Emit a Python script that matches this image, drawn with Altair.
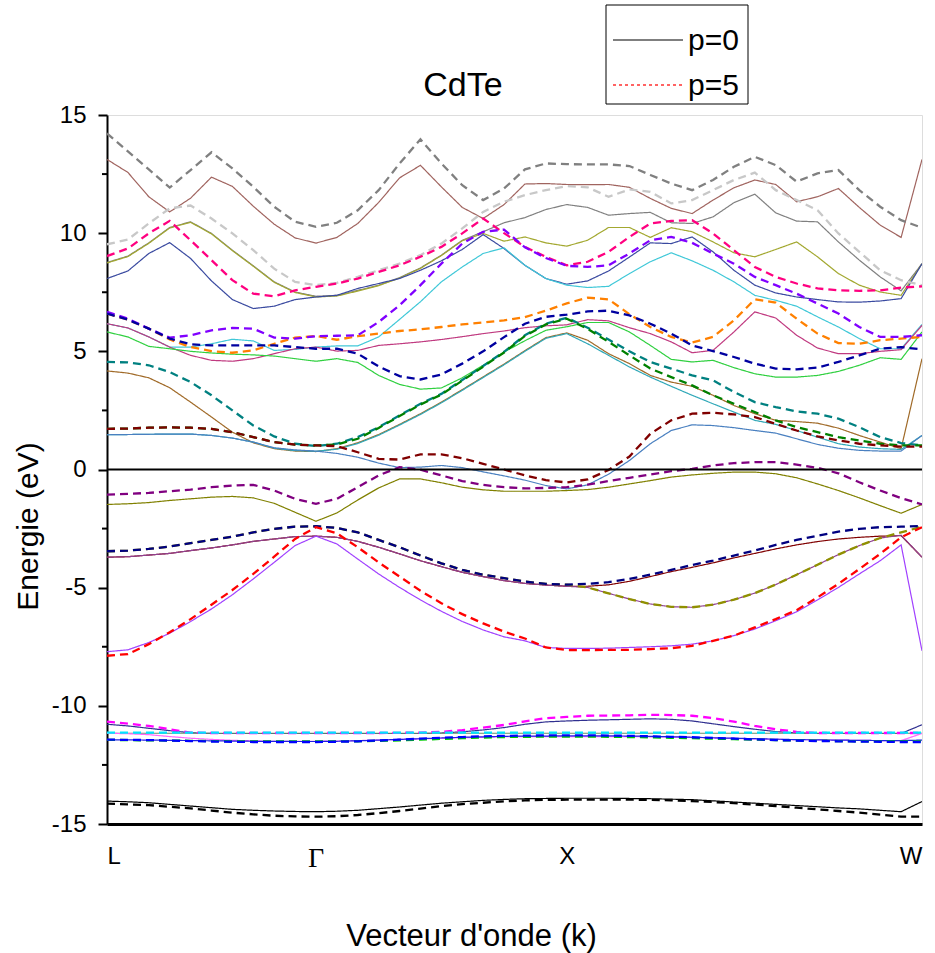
import altair as alt
import pandas as pd

# ---------------- data ----------------
K = list(range(40))  # k-point index along L - Gamma - X - W
TICK_K = [0, 10, 22, 39]
TICK_LABELS = ["L", "Γ", "X", "W"]
Y_MAJOR = [-15, -10, -5, 0, 5, 10, 15]
Y_MINOR = [-12.5, -7.5, -2.5, 2.5, 7.5, 12.5]

# p = 0 (solid)
c_top_p0 = [13.12, 12.57, 11.54, 10.90, 11.48, 12.37, 11.98, 11.14, 10.38, 9.80, 9.58, 9.82, 10.41, 11.30, 12.34, 12.87, 11.96, 11.09, 10.62, 11.21, 12.08, 12.10, 12.06, 12.05, 12.06, 11.94, 11.47, 11.05, 10.83, 11.40, 11.92, 12.25, 12.06, 11.33, 11.54, 11.89, 11.09, 10.34, 9.82, 13.12]
c_gray_p0 = [8.76, 9.03, 9.59, 10.24, 10.48, 9.99, 9.28, 8.62, 7.94, 7.51, 7.33, 7.37, 7.58, 7.80, 8.12, 8.53, 9.07, 9.70, 10.06, 10.44, 10.66, 11.00, 11.21, 11.09, 10.76, 10.83, 10.88, 10.44, 10.41, 10.69, 11.29, 11.65, 10.86, 10.51, 10.48, 9.63, 8.86, 8.15, 7.56, 8.71]
c_olive_p0 = [8.74, 9.01, 9.57, 10.22, 10.46, 9.97, 9.26, 8.60, 7.92, 7.49, 7.30, 7.34, 7.55, 7.78, 8.10, 8.51, 9.05, 9.68, 9.99, 9.66, 9.84, 9.59, 9.45, 9.70, 10.24, 10.24, 9.82, 10.23, 10.06, 9.63, 9.17, 9.00, 9.31, 9.63, 9.00, 8.29, 7.80, 7.51, 7.37, 8.71]
c_navy_p0 = [8.08, 8.40, 9.14, 9.60, 8.93, 7.98, 7.19, 6.81, 6.91, 7.19, 7.30, 7.37, 7.66, 7.87, 8.08, 8.43, 8.83, 9.31, 9.94, 9.35, 8.64, 8.08, 7.84, 7.98, 8.40, 8.99, 9.59, 9.56, 9.84, 9.21, 8.43, 7.80, 7.47, 7.30, 7.19, 7.09, 7.08, 7.13, 7.23, 8.71]
c_cyan_p0 = [6.17, 5.99, 5.61, 5.18, 5.18, 5.32, 5.51, 5.44, 5.04, 5.08, 5.18, 5.23, 5.23, 5.61, 6.35, 7.10, 7.94, 8.57, 9.14, 9.38, 8.64, 8.08, 7.80, 7.70, 7.75, 8.29, 8.79, 9.17, 8.83, 8.43, 7.94, 7.37, 7.16, 6.91, 6.46, 6.03, 5.54, 5.11, 5.11, 6.14]
c_magenta_p0 = [6.17, 5.99, 5.61, 5.18, 4.83, 4.62, 4.58, 4.69, 4.90, 5.11, 5.18, 5.01, 5.04, 5.25, 5.32, 5.40, 5.50, 5.62, 5.75, 5.86, 6.00, 6.08, 6.12, 6.34, 6.29, 6.00, 5.75, 5.40, 4.94, 5.04, 5.82, 6.67, 6.41, 5.68, 5.14, 4.90, 4.90, 5.00, 5.07, 6.10]
c_green_p0 = [5.82, 5.61, 5.21, 5.11, 5.00, 4.93, 4.88, 4.85, 4.80, 4.69, 4.58, 4.69, 4.53, 3.98, 3.60, 3.40, 3.45, 3.88, 4.41, 4.97, 5.45, 5.89, 6.04, 6.22, 6.22, 5.82, 5.25, 4.66, 4.55, 4.62, 4.31, 4.05, 3.91, 3.91, 3.98, 4.15, 4.41, 4.73, 4.66, 5.82]
c_brown_p0 = [4.17, 4.08, 3.88, 3.46, 2.85, 2.22, 1.58, 1.13, 0.88, 0.78, 0.76, 0.88, 1.13, 1.48, 1.91, 2.36, 2.85, 3.38, 3.92, 4.46, 5.03, 5.58, 5.78, 5.47, 4.90, 4.48, 3.98, 3.70, 3.52, 3.14, 2.71, 2.36, 2.08, 2.03, 1.96, 1.75, 1.44, 1.16, 0.88, 4.69]
c_teal_p0 = [1.47, 1.48, 1.49, 1.50, 1.50, 1.44, 1.33, 1.16, 0.90, 0.80, 0.77, 0.86, 1.10, 1.45, 1.88, 2.33, 2.82, 3.35, 3.89, 4.43, 5.00, 5.55, 5.75, 5.32, 4.83, 4.34, 3.91, 3.52, 3.14, 2.78, 2.43, 2.08, 1.91, 1.65, 1.37, 1.09, 0.95, 0.88, 0.85, 1.44]
c_steel_p0 = [1.47, 1.48, 1.49, 1.50, 1.50, 1.44, 1.33, 1.16, 0.92, 0.83, 0.78, 0.68, 0.52, 0.27, 0.08, 0.10, 0.17, 0.08, -0.10, -0.27, -0.45, -0.68, -0.82, -0.65, -0.20, 0.38, 1.09, 1.65, 1.89, 1.86, 1.77, 1.65, 1.54, 1.30, 1.06, 0.90, 0.81, 0.78, 0.78, 1.44]
v_olive_p0 = [-1.48, -1.45, -1.40, -1.31, -1.24, -1.17, -1.14, -1.20, -1.43, -1.81, -2.19, -1.84, -1.29, -0.78, -0.40, -0.40, -0.56, -0.75, -0.86, -0.92, -0.92, -0.92, -0.89, -0.85, -0.75, -0.61, -0.47, -0.32, -0.23, -0.16, -0.11, -0.11, -0.18, -0.35, -0.61, -0.89, -1.20, -1.53, -1.85, -1.48]
v_darkred_p0 = [-3.71, -3.69, -3.62, -3.55, -3.43, -3.32, -3.19, -3.04, -2.94, -2.84, -2.82, -2.87, -3.04, -3.29, -3.57, -3.86, -4.11, -4.35, -4.53, -4.70, -4.82, -4.89, -4.94, -4.94, -4.88, -4.73, -4.53, -4.32, -4.14, -3.95, -3.74, -3.55, -3.36, -3.19, -3.05, -2.94, -2.87, -2.82, -2.80, -3.71]
v_plum_p0 = [-3.71, -3.69, -3.62, -3.55, -3.43, -3.32, -3.19, -3.04, -2.94, -2.84, -2.82, -2.87, -3.04, -3.29, -3.57, -3.86, -4.11, -4.35, -4.53, -4.70, -4.82, -4.89, -4.94, -4.99, -5.24, -5.48, -5.69, -5.81, -5.83, -5.72, -5.51, -5.23, -4.87, -4.45, -4.03, -3.60, -3.22, -2.90, -2.78, -3.71]
v_violet_p0 = [-7.71, -7.63, -7.32, -6.93, -6.43, -5.90, -5.30, -4.63, -3.93, -3.22, -2.82, -3.15, -3.79, -4.42, -4.99, -5.52, -6.00, -6.43, -6.79, -7.08, -7.25, -7.53, -7.57, -7.57, -7.56, -7.53, -7.50, -7.46, -7.39, -7.25, -7.03, -6.75, -6.40, -6.02, -5.52, -4.99, -4.42, -3.86, -3.19, -7.67]
d_navy_p0 = [-10.78, -10.85, -10.95, -11.05, -11.14, -11.17, -11.17, -11.17, -11.17, -11.17, -11.17, -11.17, -11.17, -11.17, -11.17, -11.17, -11.15, -11.10, -11.02, -10.92, -10.78, -10.68, -10.64, -10.61, -10.59, -10.57, -10.55, -10.57, -10.64, -10.76, -10.88, -10.99, -11.09, -11.15, -11.17, -11.17, -11.17, -11.17, -11.17, -10.80]
d_sage_p0 = [-11.16, -11.16, -11.16, -11.16, -11.16, -11.16, -11.16, -11.16, -11.16, -11.16, -11.16, -11.16, -11.16, -11.16, -11.16, -11.16, -11.16, -11.16, -11.16, -11.16, -11.16, -11.16, -11.16, -11.16, -11.16, -11.16, -11.16, -11.16, -11.16, -11.16, -11.16, -11.16, -11.16, -11.16, -11.16, -11.16, -11.16, -11.16, -11.16, -11.16]
d_pink_p0 = [-11.16, -11.18, -11.22, -11.30, -11.37, -11.42, -11.46, -11.48, -11.50, -11.50, -11.50, -11.49, -11.47, -11.45, -11.42, -11.40, -11.37, -11.35, -11.33, -11.31, -11.30, -11.30, -11.30, -11.30, -11.30, -11.30, -11.31, -11.32, -11.34, -11.36, -11.38, -11.40, -11.42, -11.43, -11.44, -11.45, -11.46, -11.47, -11.47, -11.17]
d_blue_p0 = [-11.44, -11.44, -11.45, -11.46, -11.47, -11.48, -11.49, -11.50, -11.50, -11.51, -11.51, -11.50, -11.48, -11.45, -11.42, -11.39, -11.36, -11.33, -11.31, -11.29, -11.28, -11.28, -11.27, -11.27, -11.27, -11.28, -11.29, -11.31, -11.33, -11.35, -11.37, -11.39, -11.41, -11.43, -11.44, -11.45, -11.46, -11.47, -11.47, -11.45]
s_black_p0 = [-14.03, -14.06, -14.10, -14.17, -14.24, -14.31, -14.38, -14.42, -14.45, -14.47, -14.48, -14.46, -14.42, -14.35, -14.28, -14.20, -14.12, -14.06, -14.00, -13.96, -13.93, -13.92, -13.91, -13.91, -13.91, -13.92, -13.93, -13.95, -13.97, -14.02, -14.07, -14.12, -14.17, -14.22, -14.27, -14.32, -14.36, -14.42, -14.48, -14.05]

# p = 5 (dashed)
c_gray_p5 = [14.22, 13.46, 12.70, 11.93, 12.67, 13.42, 12.74, 11.96, 11.12, 10.48, 10.27, 10.44, 10.97, 11.82, 12.95, 13.97, 12.95, 12.03, 11.40, 11.89, 12.70, 12.95, 12.92, 12.91, 12.91, 12.84, 12.46, 12.10, 11.82, 12.25, 12.81, 13.23, 12.88, 12.18, 12.53, 12.67, 11.82, 11.12, 10.55, 10.23]
c_silver_p5 = [9.53, 9.73, 10.41, 11.05, 11.17, 10.62, 9.99, 9.28, 8.50, 7.94, 7.80, 7.90, 8.15, 8.43, 8.71, 9.07, 9.56, 10.20, 10.90, 11.33, 11.61, 11.82, 11.99, 11.94, 11.54, 11.85, 11.75, 11.26, 11.40, 11.82, 12.25, 12.56, 11.82, 11.40, 10.97, 9.99, 9.21, 8.43, 8.01, 7.80]
c_pink_p5 = [9.03, 9.35, 9.99, 10.52, 9.70, 8.86, 8.01, 7.44, 7.33, 7.58, 7.73, 7.87, 8.08, 8.36, 8.64, 9.00, 9.42, 9.99, 10.62, 10.00, 9.42, 9.00, 8.64, 8.79, 9.21, 9.84, 10.41, 10.52, 10.55, 9.99, 9.28, 8.57, 8.15, 7.87, 7.66, 7.58, 7.56, 7.58, 7.70, 7.75]
c_purple_p5 = [6.67, 6.38, 5.96, 5.58, 5.68, 5.89, 5.99, 5.96, 5.58, 5.54, 5.64, 5.66, 5.68, 6.24, 6.95, 7.80, 8.71, 9.56, 10.06, 10.15, 9.40, 8.95, 8.62, 8.57, 8.64, 9.14, 9.70, 9.84, 9.59, 9.14, 8.71, 8.15, 7.80, 7.44, 7.02, 6.60, 6.03, 5.61, 5.61, 5.68]
c_orange_p5 = [6.60, 6.34, 5.96, 5.50, 5.18, 5.01, 4.94, 5.04, 5.32, 5.58, 5.65, 5.49, 5.64, 5.75, 5.86, 5.93, 6.03, 6.14, 6.22, 6.31, 6.45, 6.72, 7.03, 7.27, 7.20, 6.57, 6.03, 5.61, 5.37, 5.61, 6.31, 7.20, 7.06, 6.38, 5.75, 5.35, 5.32, 5.47, 5.54, 5.61]
c_navy_p5 = [6.60, 6.34, 5.96, 5.54, 5.30, 5.25, 5.25, 5.25, 5.25, 5.18, 5.11, 5.11, 4.90, 4.36, 3.95, 3.81, 4.02, 4.48, 5.00, 5.60, 6.17, 6.46, 6.55, 6.69, 6.72, 6.52, 6.17, 5.75, 5.25, 5.01, 4.76, 4.48, 4.27, 4.24, 4.31, 4.55, 4.83, 5.11, 5.18, 5.08]
c_teal_p5 = [4.55, 4.53, 4.41, 4.12, 3.70, 3.14, 2.50, 1.86, 1.40, 1.09, 0.99, 1.09, 1.37, 1.79, 2.29, 2.78, 3.20, 3.79, 4.38, 4.98, 5.68, 6.17, 6.42, 6.00, 5.50, 5.00, 4.55, 4.27, 3.98, 3.77, 3.28, 2.85, 2.64, 2.46, 2.36, 2.15, 1.79, 1.37, 1.12, 1.02]
c_green_p5 = [1.72, 1.73, 1.77, 1.78, 1.77, 1.72, 1.58, 1.37, 1.16, 1.05, 1.02, 1.06, 1.30, 1.76, 2.26, 2.75, 3.17, 3.76, 4.35, 4.95, 5.65, 6.14, 6.38, 5.95, 5.40, 4.83, 4.27, 3.91, 3.56, 3.14, 2.78, 2.43, 2.08, 1.79, 1.58, 1.37, 1.23, 1.09, 1.02, 1.02]
c_maroon_p5 = [1.72, 1.73, 1.77, 1.78, 1.77, 1.72, 1.58, 1.37, 1.16, 1.05, 1.02, 0.99, 0.73, 0.45, 0.42, 0.64, 0.64, 0.48, 0.24, 0.00, -0.25, -0.45, -0.55, -0.42, -0.02, 0.55, 1.51, 2.08, 2.36, 2.40, 2.33, 2.22, 1.93, 1.65, 1.40, 1.23, 1.09, 1.02, 0.97, 0.97]
v_purple_p5 = [-1.06, -1.03, -0.99, -0.92, -0.85, -0.75, -0.68, -0.65, -0.89, -1.24, -1.45, -1.24, -0.75, -0.25, 0.10, -0.01, -0.25, -0.49, -0.65, -0.75, -0.80, -0.78, -0.75, -0.64, -0.49, -0.35, -0.21, -0.07, 0.03, 0.17, 0.27, 0.31, 0.31, 0.21, 0.07, -0.16, -0.54, -0.89, -1.21, -1.48]
v_navy_p5 = [-3.46, -3.43, -3.36, -3.26, -3.12, -2.98, -2.84, -2.66, -2.51, -2.42, -2.40, -2.47, -2.66, -2.98, -3.29, -3.64, -3.97, -4.25, -4.45, -4.60, -4.74, -4.84, -4.87, -4.84, -4.77, -4.63, -4.45, -4.25, -4.04, -3.86, -3.64, -3.43, -3.19, -2.98, -2.80, -2.63, -2.51, -2.44, -2.42, -2.39]
v_olive_p5 = [-3.46, -3.43, -3.36, -3.26, -3.12, -2.98, -2.84, -2.66, -2.51, -2.42, -2.40, -2.47, -2.66, -2.98, -3.29, -3.64, -3.97, -4.25, -4.45, -4.60, -4.74, -4.84, -4.87, -4.99, -5.24, -5.48, -5.69, -5.81, -5.83, -5.72, -5.51, -5.23, -4.87, -4.45, -4.03, -3.60, -3.22, -2.90, -2.66, -2.42]
v_red_p5 = [-7.88, -7.81, -7.39, -6.89, -6.33, -5.72, -5.10, -4.42, -3.69, -2.94, -2.44, -2.70, -3.29, -3.93, -4.53, -5.13, -5.66, -6.12, -6.51, -6.86, -7.15, -7.53, -7.64, -7.64, -7.63, -7.63, -7.60, -7.56, -7.46, -7.25, -7.03, -6.68, -6.33, -5.95, -5.41, -4.84, -4.21, -3.57, -2.87, -2.44]
d_magenta_p5 = [-10.67, -10.75, -10.85, -10.99, -11.13, -11.15, -11.15, -11.15, -11.15, -11.15, -11.15, -11.15, -11.15, -11.15, -11.14, -11.13, -11.10, -11.03, -10.92, -10.81, -10.66, -10.52, -10.47, -10.42, -10.41, -10.40, -10.38, -10.39, -10.42, -10.52, -10.67, -10.85, -10.99, -11.10, -11.15, -11.15, -11.15, -11.15, -11.15, -11.15]
d_cyan_p5 = [-11.13, -11.13, -11.13, -11.13, -11.13, -11.13, -11.13, -11.13, -11.13, -11.13, -11.13, -11.13, -11.13, -11.13, -11.13, -11.13, -11.13, -11.13, -11.13, -11.13, -11.13, -11.13, -11.13, -11.13, -11.13, -11.13, -11.13, -11.13, -11.13, -11.13, -11.13, -11.13, -11.13, -11.13, -11.13, -11.13, -11.13, -11.13, -11.13, -11.13]
d_green_p5 = [-11.44, -11.45, -11.46, -11.47, -11.48, -11.49, -11.50, -11.51, -11.51, -11.51, -11.51, -11.51, -11.50, -11.48, -11.46, -11.43, -11.40, -11.37, -11.34, -11.32, -11.31, -11.30, -11.30, -11.30, -11.31, -11.32, -11.33, -11.35, -11.37, -11.39, -11.41, -11.43, -11.45, -11.47, -11.48, -11.49, -11.50, -11.50, -11.50, -11.50]
d_blue_p5 = [-11.43, -11.44, -11.45, -11.47, -11.49, -11.51, -11.52, -11.53, -11.53, -11.53, -11.53, -11.52, -11.50, -11.47, -11.43, -11.39, -11.35, -11.32, -11.29, -11.27, -11.26, -11.25, -11.25, -11.25, -11.26, -11.27, -11.29, -11.31, -11.33, -11.36, -11.39, -11.42, -11.45, -11.47, -11.49, -11.50, -11.51, -11.52, -11.53, -11.53]
s_black_p5 = [-14.14, -14.17, -14.20, -14.27, -14.34, -14.43, -14.52, -14.59, -14.65, -14.68, -14.69, -14.67, -14.62, -14.54, -14.45, -14.35, -14.24, -14.16, -14.10, -14.04, -14.00, -13.98, -13.97, -13.97, -13.97, -13.97, -13.98, -14.00, -14.03, -14.07, -14.12, -14.18, -14.24, -14.31, -14.38, -14.45, -14.52, -14.60, -14.69, -14.69]

SOLID = [
    ("c_top_p0", c_top_p0, "#a0645f"), ("c_gray_p0", c_gray_p0, "#808080"),
    ("c_olive_p0", c_olive_p0, "#a3a830"), ("c_navy_p0", c_navy_p0, "#3a4aa0"),
    ("c_cyan_p0", c_cyan_p0, "#40c8d8"), ("c_magenta_p0", c_magenta_p0, "#c03a80"),
    ("c_green_p0", c_green_p0, "#30d040"), ("c_brown_p0", c_brown_p0, "#a06a28"),
    ("c_teal_p0", c_teal_p0, "#30a8b8"), ("c_steel_p0", c_steel_p0, "#4a80c0"),
    ("v_olive_p0", v_olive_p0, "#808000"), ("v_darkred_p0", v_darkred_p0, "#800000"),
    ("v_plum_p0", v_plum_p0, "#904090"), ("v_violet_p0", v_violet_p0, "#a040ff"),
    ("d_navy_p0", d_navy_p0, "#303090"), ("d_sage_p0", d_sage_p0, "#6b8e6b"),
    ("d_pink_p0", d_pink_p0, "#ff66ff"), ("d_blue_p0", d_blue_p0, "#2020e0"),
    ("s_black_p0", s_black_p0, "#000000"),
]
DASHED = [
    ("c_gray_p5", c_gray_p5, "#808080"), ("c_silver_p5", c_silver_p5, "#c8c8c8"),
    ("c_pink_p5", c_pink_p5, "#ff0080"), ("c_orange_p5", c_orange_p5, "#ff8000"),
    ("c_purple_p5", c_purple_p5, "#8000ff"), ("c_navy_p5", c_navy_p5, "#0000a0"),
    ("c_teal_p5", c_teal_p5, "#008080"), ("c_green_p5", c_green_p5, "#008000"),
    ("c_maroon_p5", c_maroon_p5, "#800000"),
    ("v_purple_p5", v_purple_p5, "#800080"), ("v_olive_p5", v_olive_p5, "#909000"),
    ("v_navy_p5", v_navy_p5, "#000080"), ("v_red_p5", v_red_p5, "#ff0000"),
    ("d_magenta_p5", d_magenta_p5, "#ff00ff"), ("d_cyan_p5", d_cyan_p5, "#00e5ff"),
    ("d_green_p5", d_green_p5, "#00cc00"), ("d_blue_p5", d_blue_p5, "#0000ff"),
    ("s_black_p5", s_black_p5, "#000000"),
]


def frame(bands):
    rows = []
    for name, vals, col in bands:
        for k, e in zip(K, vals):
            rows.append({"band": name, "k": k, "E": e, "col": col})
    return pd.DataFrame(rows)


W, H = 815, 709
FONT = "Liberation Sans"

x_scale = alt.Scale(domain=[0, 39], nice=False, zero=False)
y_scale = alt.Scale(domain=[-15, 15], nice=False, zero=False)

label_expr = "datum.value == 0 ? 'L' : datum.value == 22 ? 'X' : datum.value == 39 ? 'W' : ''"
y_label_expr = "datum.value < 0 ? '-' + abs(datum.value) : '' + datum.value"

x_axis = alt.Axis(values=TICK_K, labelExpr=label_expr, labelFont=FONT, labelFontSize=24,
                  labelColor="black", tickSize=0, domainColor="black", domainWidth=3,
                  labelPadding=20, grid=False, title="Vecteur d'onde (k)", titleFont=FONT,
                  titleFontSize=31, titleFontWeight="normal", titleColor="black",
                  titleX=364, titleY=121, titleAlign="center", titleBaseline="alphabetic")
y_axis = alt.Axis(values=Y_MAJOR, labelExpr=y_label_expr, labelFont=FONT, labelFontSize=24,
                  labelColor="black", tickSize=9, tickWidth=2, tickColor="black",
                  domainColor="black", domainWidth=2, labelPadding=12, grid=False,
                  title="Energie (eV)", titleFont=FONT, titleFontSize=30,
                  titleFontWeight="normal", titleColor="black", titleAngle=270,
                  titleX=-70, titleY=411, titleAlign="center", titleBaseline="alphabetic")


def band_layer(bands, dash, width):
    df = frame(bands)
    return alt.Chart(df).mark_line(strokeWidth=width, strokeDash=dash, clip=True).encode(
        x=alt.X("k:Q", scale=x_scale, axis=x_axis),
        y=alt.Y("E:Q", scale=y_scale, axis=y_axis),
        color=alt.Color("col:N", scale=None, legend=None),
        detail="band:N",
        order="k:Q",
    )


solid = band_layer(SOLID, [1, 0], 1.2)
dashed = band_layer(DASHED, [8, 5], 2.3)

zero = alt.Chart(pd.DataFrame({"E": [0]})).mark_rule(color="black", strokeWidth=2).encode(
    y=alt.Y("E:Q", scale=y_scale))

minor = alt.Chart(pd.DataFrame({"E": Y_MINOR})).mark_rule(color="black", strokeWidth=2).encode(
    y=alt.Y("E:Q", scale=y_scale), x=alt.value(-5), x2=alt.value(0))

gamma = alt.Chart(pd.DataFrame({"k": [TICK_K[1]], "t": [TICK_LABELS[1]]})).mark_text(
    font="Liberation Serif", fontSize=28, baseline="top", align="center", color="black"
).encode(x=alt.X("k:Q", scale=x_scale), y=alt.value(H + 21), text="t:N")

title = alt.Chart(pd.DataFrame({"t": ["CdTe"]})).mark_text(
    font=FONT, fontSize=34, align="center", baseline="middle", color="black"
).encode(x=alt.value(356), y=alt.value(-29), text="t:N")

one = pd.DataFrame({"a": [0]})
legend_box = alt.Chart(one).mark_rect(fill="white", stroke="black", strokeWidth=1).encode(
    x=alt.value(499), x2=alt.value(641), y=alt.value(-110), y2=alt.value(-11))
leg_l0 = alt.Chart(one).mark_rule(color="#555555", strokeWidth=1.5).encode(
    x=alt.value(506), x2=alt.value(576), y=alt.value(-75))
leg_l5 = alt.Chart(one).mark_rule(color="#ff3030", strokeWidth=1.5, strokeDash=[3, 3]).encode(
    x=alt.value(506), x2=alt.value(576), y=alt.value(-30))
leg_t = alt.Chart(pd.DataFrame({"t": ["p=0", "p=5"], "yy": [-74, -29]})).mark_text(
    font=FONT, fontSize=30, align="left", baseline="middle", color="black"
).encode(x=alt.value(581), y=alt.Y("yy:Q", scale=None), text="t:N")

chart = alt.layer(solid, dashed, zero, minor, gamma, title, legend_box, leg_l0, leg_l5, leg_t).properties(
    width=W, height=H, autosize="none",
    padding={"left": 107, "top": 115, "right": 13, "bottom": 129},
).configure_view(stroke="black", strokeWidth=3).configure(background="white")

chart.save("out.html", embed_options={"renderer": "svg", "actions": False})
